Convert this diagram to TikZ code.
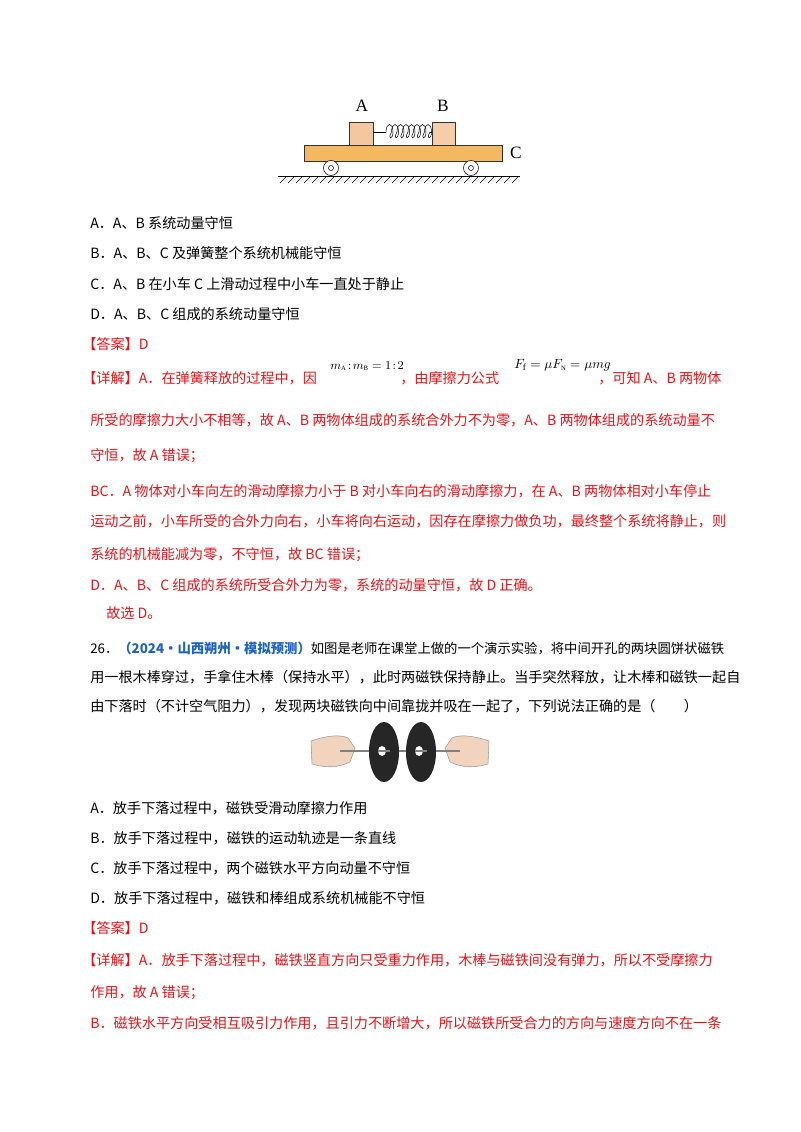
\documentclass[tikz,border=0pt]{standalone}
\usepackage{fontspec}
\setmainfont{Liberation Serif}
\newfontfamily\cjk{Noto Sans CJK SC}
\definecolor{rd}{HTML}{E8131B}
\definecolor{bl}{HTML}{1E63C4}
\definecolor{plank}{HTML}{F4B860}
\definecolor{blk}{HTML}{F5C7A0}
\definecolor{skin}{HTML}{F2D3BE}
\begin{document}
\begin{tikzpicture}[x=0.75pt,y=-0.75pt,
  ln/.style={anchor=west,inner sep=0,font=\cjk\fontsize{10.6}{13}\selectfont},
  rl/.style={ln,text=rd}]
\useasboundingbox (0,0) rectangle (800,1132);
\fill[white] (0,0) rectangle (800,1132);
% ---- figure 1
\draw[fill=plank,draw=black!80] (304,145) rectangle (502,161);
\draw[fill=blk,draw=black!80] (349,122) rectangle (373,145);
\draw[fill=blk!90!white,draw=black!80] (432,122) rectangle (455,145);
\draw (373,132) -- (386,132);
\foreach \i in {0,...,7}{\draw (386+\i*5.5,132) .. controls (386+\i*5.5,122) and (393+\i*5.5,122) .. (393+\i*5.5,132) .. controls (393+\i*5.5,140) and (387+\i*5.5,140) .. (391.5+\i*5.5,132);}
\draw (430,132) -- (432,132);
\foreach \x in {331,471}{\draw[fill=white] (\x,168) circle (7.5); \draw (\x,168) circle (2.5);}
\draw (278,176) -- (520,176);
\foreach \x in {280,288,...,516}{\draw (\x,183) -- (\x+6,177);}
\node[inner sep=0,font=\fontsize{13}{14}\selectfont] (la) at (362,106) {A};
\node[inner sep=0,font=\fontsize{13}{14}\selectfont] (lb) at (443,106) {B};
\node[inner sep=0,font=\fontsize{13}{14}\selectfont] (lc) at (516,153) {C};
% ---- text
\node[ln] (t1) at (90,223) {A．A、B 系统动量守恒};
\node[ln] (t2) at (90,253) {B．A、B、C 及弹簧整个系统机械能守恒};
\node[ln] (t3) at (90,284) {C．A、B 在小车 C 上滑动过程中小车一直处于静止};
\node[ln] (t4) at (90,314) {D．A、B、C 组成的系统动量守恒};
\node[rl] (t5) at (82,344) {【答案】D};
\node[rl] (t6) at (82,378) {【详解】A．在弹簧释放的过程中，因};
\node[anchor=west,inner sep=0,font=\fontsize{9}{10}\selectfont] (f1) at (330,366) {$m_{\scriptscriptstyle\rm A}\!:\!m_{\scriptscriptstyle\rm B}=1\!:\!2$};
\node[rl] (t6b) at (400,378) {，由摩擦力公式};
\node[anchor=west,inner sep=0,font=\fontsize{10}{11}\selectfont] (f2) at (514,365) {$F_{\rm f}=\mu F_{\scriptscriptstyle\rm N}=\mu mg$};
\node[rl] (t6c) at (598,378) {，可知 A、B 两物体};
\node[rl] (t7) at (90,420) {所受的摩擦力大小不相等，故 A、B 两物体组成的系统合外力不为零，A、B 两物体组成的系统动量不};
\node[rl] (t8) at (90,456) {守恒，故 A 错误；};
\node[rl] (t9) at (90,491) {BC．A 物体对小车向左的滑动摩擦力小于 B 对小车向右的滑动摩擦力，在 A、B 两物体相对小车停止};
\node[rl] (t10) at (90,521) {运动之前，小车所受的合外力向右，小车将向右运动，因存在摩擦力做负功，最终整个系统将静止，则};
\node[rl] (t11) at (90,555) {系统的机械能减为零，不守恒，故 BC 错误；};
\node[rl] (t12) at (90,585) {D．A、B、C 组成的系统所受合外力为零，系统的动量守恒，故 D 正确。};
\node[rl] (t13) at (106,613) {故选 D。};
\node[ln,font=\cjk\fontsize{10}{13}\selectfont] (q1) at (90,648) {26．\textcolor{bl}{\bfseries（2024·山西朔州·模拟预测）}如图是老师在课堂上做的一个演示实验，将中间开孔的两块圆饼状磁铁};
\node[ln] (q2) at (90,677) {用一根木棒穿过，手拿住木棒（保持水平），此时两磁铁保持静止。当手突然释放，让木棒和磁铁一起自};
\node[ln] (q3) at (90,706) {由下落时（不计空气阻力），发现两块磁铁向中间靠拢并吸在一起了，下列说法正确的是（　　）};
% ---- figure 2
\fill[skin,draw=black!40] (311,741) .. controls (325,736) and (340,734) .. (348,738) -- (355,748) -- (350,762) .. controls (338,768) and (325,768) .. (312,764) -- cycle;
\fill[skin,draw=black!40] (489,741) .. controls (475,736) and (460,734) .. (452,738) -- (445,748) -- (450,762) .. controls (462,768) and (475,768) .. (488,764) -- cycle;
\draw[gray,line width=1.6pt] (340,751) -- (460,751);
\foreach \x in {384,421}{\fill[black!85] (\x,752) ellipse (15 and 30); \fill[white] (\x-2,751) ellipse (4 and 5); \draw[gray,line width=1.6pt] (\x-6,751) -- (\x+6,751);}
\node[ln] (o1) at (90,808) {A．放手下落过程中，磁铁受滑动摩擦力作用};
\node[ln] (o2) at (90,838) {B．放手下落过程中，磁铁的运动轨迹是一条直线};
\node[ln] (o3) at (90,868) {C．放手下落过程中，两个磁铁水平方向动量不守恒};
\node[ln] (o4) at (90,898) {D．放手下落过程中，磁铁和棒组成系统机械能不守恒};
\node[rl] (a1) at (82,928) {【答案】D};
\node[rl] (a2) at (82,960) {【详解】A．放手下落过程中，磁铁竖直方向只受重力作用，木棒与磁铁间没有弹力，所以不受摩擦力};
\node[rl] (a3) at (90,993) {作用，故 A 错误；};
\node[rl] (a4) at (90,1023) {B．磁铁水平方向受相互吸引力作用，且引力不断增大，所以磁铁所受合力的方向与速度方向不在一条};
\end{tikzpicture}
\end{document}
